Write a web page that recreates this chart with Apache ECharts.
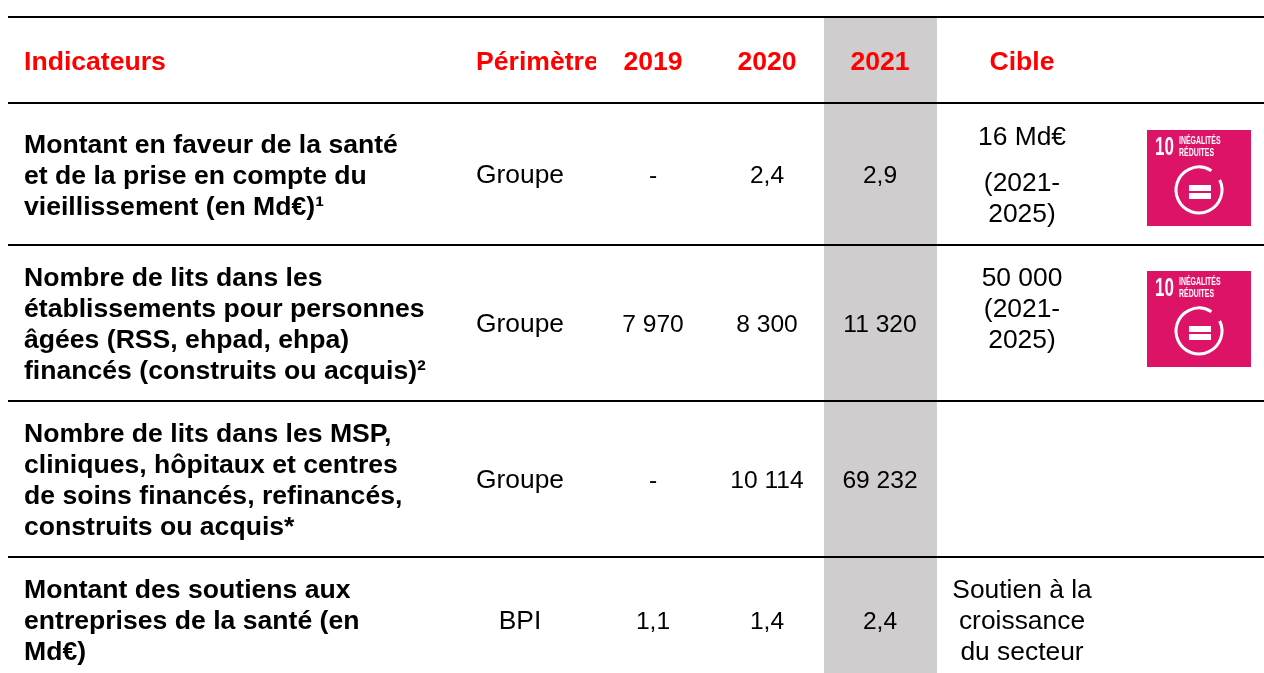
<!DOCTYPE html>
<html>
<head>
<meta charset="utf-8">
<title>Indicateurs santé</title>
<script src="https://cdn.jsdelivr.net/npm/echarts@6/dist/echarts.min.js"></script>
<style>
  html, body { margin: 0; padding: 0; background: #fff; }
  #main { width: 1264px; height: 673px; }
</style>
</head>
<body>
<div id="main"></div>
<script>
// table content
const headers = ['Indicateurs', 'Périmètre', '2019', '2020', '2021', 'Cible'];
const indicators = [
  ['Montant en faveur de la santé', 'et de la prise en compte du', 'vieillissement (en Md€)¹'],
  ['Nombre de lits dans les', 'établissements pour personnes', 'âgées (RSS, ehpad, ehpa)', 'financés (construits ou acquis)²'],
  ['Nombre de lits dans les MSP,', 'cliniques, hôpitaux et centres', 'de soins financés, refinancés,', 'construits ou acquis*'],
  ['Montant des soutiens aux', 'entreprises de la santé (en', 'Md€)']
];
const perimetre = ['Groupe', 'Groupe', 'Groupe', 'BPI'];
const values2019 = ['-', '7 970', '-', '1,1'];
const values2020 = ['2,4', '8 300', '10 114', '1,4'];
const values2021 = ['2,9', '11 320', '69 232', '2,4'];
const cibles = [
  ['16 Md€', '(2021-', '2025)'],
  ['50 000', '(2021-', '2025)'],
  [],
  ['Soutien à la', 'croissance', 'du secteur']
];
const sdgRows = [0, 1];

// layout
const font = 'Liberation Sans';
const ruleY = [17, 103, 245, 401, 557];
const rowCenter = [176, 325, 481, 622];
const indicTop = [146, 279, 435, 591];
const cibleY = [[138, 184, 215], [279, 310, 341], [], [591, 622, 653]];
const colX = { indic: 24, perim: 520, y2019: 653, y2020: 767, y2021: 880, cible: 1022 };
const iconTop = [130, 271];

function txt(x, y, text, size, weight, color, align) {
  return {
    type: 'text',
    silent: true,
    style: {
      x: x, y: y, text: text,
      fontFamily: font,
      fontSize: size,
      fontWeight: weight || 'normal',
      fill: color || '#000',
      align: align || 'center',
      verticalAlign: 'middle'
    }
  };
}

// narrow text for the SDG icon
function narrow(x, y, text, size, sx) {
  return {
    type: 'text', silent: true, x: x, y: y, scaleX: sx,
    style: { x: 0, y: 0, text: text, fontFamily: font, fontWeight: 'bold', fontSize: size, fill: '#fff', align: 'left', verticalAlign: 'middle' }
  };
}

const els = [];

// colonne 2021 en gris
els.push({ type: 'rect', silent: true, shape: { x: 824, y: 17, width: 113, height: 656 }, style: { fill: '#cfcdce' } });

// entetes
els.push(txt(colX.indic, 63, headers[0], 26.6, 'bold', '#f00', 'left'));
els.push(txt(476, 63, headers[1], 26.6, 'bold', '#f00', 'left'));
els.push({ type: 'rect', silent: true, shape: { x: 596, y: 40, width: 20, height: 40 }, style: { fill: '#fff' } });
els.push(txt(colX.y2019, 63, headers[2], 26.6, 'bold', '#f00'));
els.push(txt(colX.y2020, 63, headers[3], 26.6, 'bold', '#f00'));
els.push(txt(colX.y2021, 63, headers[4], 26.6, 'bold', '#f00'));
els.push(txt(colX.cible, 63, headers[5], 26.6, 'bold', '#f00'));

// lignes du tableau
indicators.forEach(function (lines, r) {
  lines.forEach(function (line, i) {
    els.push(txt(colX.indic, indicTop[r] + i * 31, line, 26.6, 'bold', '#000', 'left'));
  });
  els.push(txt(colX.perim, rowCenter[r], perimetre[r], 26.4));
  els.push(txt(colX.y2019, rowCenter[r], values2019[r], 24.6));
  els.push(txt(colX.y2020, rowCenter[r], values2020[r], 24.6));
  els.push(txt(colX.y2021, rowCenter[r], values2021[r], 24.6));
  cibles[r].forEach(function (line, i) {
    els.push(txt(colX.cible, cibleY[r][i], line, 26.4));
  });
});

// filets
ruleY.forEach(function (y) {
  els.push({ type: 'line', silent: true, shape: { x1: 8, y1: y, x2: 1264, y2: y }, style: { stroke: '#000', lineWidth: 2 } });
});

// pictos ODD 10
sdgRows.forEach(function (r) {
  const t = iconTop[r];
  els.push({ type: 'rect', silent: true, shape: { x: 1147, y: t, width: 104, height: 96 }, style: { fill: '#dd1367' } });
  els.push(narrow(1155, t + 18, '10', 25, 0.68));
  els.push(narrow(1179, t + 11, 'INÉGALITÉS', 10.5, 0.66));
  els.push(narrow(1179, t + 23, 'RÉDUITES', 10.5, 0.66));
  els.push({
    type: 'arc', silent: true,
    shape: { cx: 1199, cy: t + 60, r: 23, startAngle: -0.45, endAngle: -1.0, clockwise: true },
    style: { stroke: '#fff', fill: null, lineWidth: 3 }
  });
  els.push({ type: 'rect', silent: true, shape: { x: 1189, y: t + 55, width: 22, height: 6 }, style: { fill: '#fff' } });
  els.push({ type: 'rect', silent: true, shape: { x: 1189, y: t + 63, width: 22, height: 6 }, style: { fill: '#fff' } });
});

const chart = echarts.init(document.getElementById('main'), null, { renderer: 'canvas' });
chart.setOption({
  backgroundColor: '#fff',
  animation: false,
  graphic: { elements: els }
});
</script>
</body>
</html>
